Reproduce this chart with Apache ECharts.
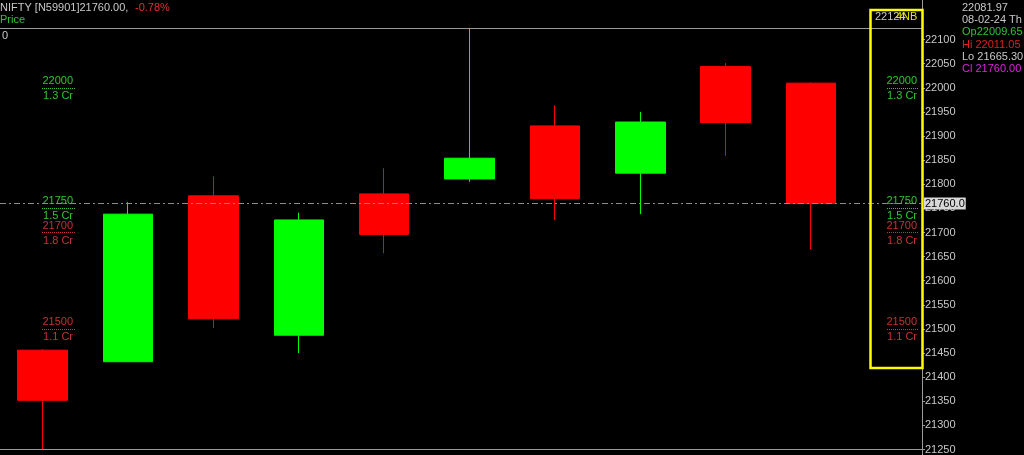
<!DOCTYPE html>
<html><head><meta charset="utf-8">
<script src="https://cdn.jsdelivr.net/npm/echarts@6/dist/echarts.min.js"></script>
<style>html,body{margin:0;padding:0;background:#000;}#c{width:1024px;height:455px;}</style>
</head><body><div id="c"></div>
<script>
// ---- data ----
const candleIndex = [0, 1, 2, 3, 4, 5, 6, 7, 8, 9];
const opens  = [21456, 21432, 21776, 21487, 21780, 21811, 21921, 21823, 22044, 22009.65];
const closes = [21352, 21738, 21521, 21726, 21696, 21854, 21770, 21929, 21928, 21760.00];
const lows   = [21250, 21432, 21502, 21450, 21657, 21805, 21726, 21738, 21859, 21665.30];
const highs  = [21458, 21763, 21816, 21741, 21833, 22124, 21964, 21950, 22051, 22011.05];
const lastClose = 21760.00;
const yMin = 21250, yMax = 22124, yStep = 50;
const levelPrices  = [22000, 21750, 21700, 21500];
const levelVolumes = ['1.3 Cr', '1.5 Cr', '1.8 Cr', '1.1 Cr'];
const levelKinds   = ['up', 'up', 'dn', 'dn'];
const infoLines = ['22081.97', '08-02-24 Th', 'Op22009.65', 'Hi 22011.05', 'Lo 21665.30', 'Cl 21760.00'];

const FONT = 'Liberation Sans';
const GRAY = '#c8c8c8';
const chart = echarts.init(document.getElementById('c'));

const candleData = candleIndex.map((x, i) => [x, opens[i], closes[i], lows[i], highs[i]]);
const levelData = levelPrices.map((p, i) => [0, p, i]);
const levelColor = { up: '#33c433', dn: '#c83232' };

function levelItem(params, api) {
  const y = api.coord([0, api.value(1)])[1];
  const i = api.value(2);
  const col = levelColor[levelKinds[i]];
  const children = [];
  [[73, 42, 76], [917, 887, 918]].forEach(([tx, x0, x1]) => {
    children.push({ type: 'line', shape: { x1: x0, y1: Math.round(y) + 0.5, x2: x1, y2: Math.round(y) + 0.5 },
      style: { stroke: col, lineWidth: 1, lineDash: [1, 1] } });
    children.push({ type: 'text', x: tx, y: y - 7,
      style: { text: String(levelPrices[i]), fill: col, font: '11px ' + FONT, align: 'right', verticalAlign: 'middle' } });
    children.push({ type: 'text', x: tx, y: y + 8,
      style: { text: levelVolumes[i], fill: col, font: '11px ' + FONT, align: 'right', verticalAlign: 'middle' } });
  });
  return { type: 'group', children };
}

const infoColors = [GRAY, GRAY, '#33c433', '#e02020', GRAY, '#e020e0'];
const frameAxis = (pos) => ({ type: 'value', min: -0.5, max: 10.3, position: pos,
  axisLine: { show: true, onZero: false, lineStyle: { color: '#9a9a9a', width: 1 } },
  axisTick: { show: false }, axisLabel: { show: false }, splitLine: { show: false } });

chart.setOption({
  backgroundColor: '#000',
  animation: false,
  textStyle: { fontFamily: FONT },
  grid: { left: 0, right: 102, top: 28, bottom: 4 },
  xAxis: [frameAxis('bottom'), frameAxis('top')],
  yAxis: {
    type: 'value', position: 'right', min: yMin, max: yMax, interval: yStep,
    axisLine: { show: false, onZero: false },
    axisTick: { show: true, length: 3, lineStyle: { color: '#9a9a9a' } },
    axisLabel: { color: GRAY, fontSize: 11, fontFamily: FONT, margin: 3, padding: [6, 0, 0, 0],
      showMaxLabel: false, formatter: v => String(v) },
    splitLine: { show: false }
  },
  series: [
    {
      type: 'candlestick',
      data: candleData,
      barWidth: 50,
      itemStyle: { color: '#00ff00', borderColor: '#00ff00', color0: '#ff0000', borderColor0: '#ff0000', borderWidth: 1 },
      markLine: {
        silent: true, symbol: ['none', 'none'], animation: false,
        lineStyle: { color: '#8c8c8c', type: [6, 3, 2, 3], width: 1 },
        label: { show: true, position: 'end', distance: 2, formatter: lastClose.toFixed(1),
          backgroundColor: '#d8d8d8', color: '#000', fontSize: 11, fontFamily: FONT, padding: [1, 1, 0, 1] },
        data: [{ yAxis: lastClose }]
      },
      z: 3
    },
    {
      type: 'custom', renderItem: levelItem, data: levelData, silent: true, z: 2
    }
  ],
  graphic: [
    { type: 'line', shape: { x1: 922.5, y1: 0, x2: 922.5, y2: 455 }, style: { stroke: '#9a9a9a', lineWidth: 1 }, z: 1 },
    { type: 'text', x: 0, y: 8, style: { text: 'NIFTY [N59901]21760.00,', fill: GRAY, font: '11px ' + FONT, verticalAlign: 'middle' } },
    { type: 'text', x: 135, y: 8, style: { text: '-0.78%', fill: '#e03030', font: '11px ' + FONT, verticalAlign: 'middle' } },
    { type: 'text', x: 0, y: 20, style: { text: 'Price', fill: '#33c433', font: '11px ' + FONT, verticalAlign: 'middle' } },
    { type: 'text', x: 2, y: 36, style: { text: '0', fill: GRAY, font: '11px ' + FONT, verticalAlign: 'middle' } },
    { type: 'text', x: 875, y: 17, style: { text: '22124', fill: GRAY, font: '11px ' + FONT, verticalAlign: 'middle' } },
    { type: 'text', x: 896, y: 17, style: { text: '4NB', fill: '#e6e600', font: '11px ' + FONT, verticalAlign: 'middle' } },
    ...infoLines.map((t, i) => ({ type: 'text', x: 962, y: 8 + i * 12.2,
      style: { text: t, fill: infoColors[i], font: '11px ' + FONT, verticalAlign: 'middle' } })),
    { type: 'rect', shape: { x: 870.5, y: 10, width: 52, height: 358 },
      style: { fill: 'none', stroke: '#ffff00', lineWidth: 2.5 }, z: 100 }
  ]
});
</script></body></html>
